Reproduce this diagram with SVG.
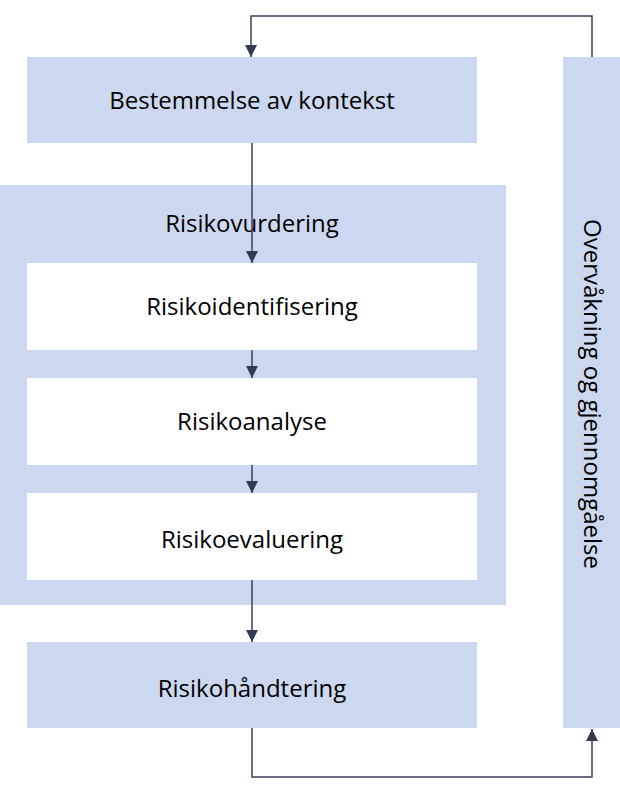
<svg xmlns="http://www.w3.org/2000/svg" width="620" height="793" viewBox="0 0 620 793">
<style>
.b{fill:#ccd8ef}.w{fill:#fff}
.t{font-family:"Open Sans","Liberation Sans",sans-serif;font-size:24px;fill:#000;text-anchor:middle}
.c{fill:none;stroke:#3b4058;stroke-width:1.5}
</style>
<defs>
<marker id="m" viewBox="0 0 12 12" markerWidth="12" markerHeight="12" refX="12" refY="6" orient="auto" markerUnits="userSpaceOnUse"><path d="M0,0L12,6L0,12z" fill="#333a55"/></marker></defs>
<g id="kontekst"><rect class="b" x="27" y="57" width="450" height="86"/><text class="t" x="252" y="109">Bestemmelse av kontekst</text></g>
<g id="vurdering"><rect class="b" x="0" y="185" width="506" height="420"/><text class="t" x="252" y="232">Risikovurdering</text></g>
<g id="identifisering"><rect class="w" x="27" y="263" width="450" height="87"/><text class="t" x="252" y="315">Risikoidentifisering</text></g>
<g id="analyse"><rect class="w" x="27" y="378" width="450" height="87"/><text class="t" x="252" y="430">Risikoanalyse</text></g>
<g id="evaluering"><rect class="w" x="27" y="493" width="450" height="87"/><text class="t" x="252" y="548">Risikoevaluering</text></g>
<g id="handtering"><rect class="b" x="27" y="642" width="450" height="86"/><text class="t" x="252" y="697">Risikohåndtering</text></g>
<g id="overvaking"><rect class="b" x="563" y="57" width="57" height="671"/><text class="t" transform="translate(584,394) rotate(90)">Overvåkning og gjennomgåelse</text></g>
<g id="connectors">
<path class="c" d="M592,57V16H251V57" marker-end="url(#m)"/>
<path class="c" d="M252,143V263" marker-end="url(#m)"/>
<path class="c" d="M252,350V378" marker-end="url(#m)"/>
<path class="c" d="M252,465V493" marker-end="url(#m)"/>
<path class="c" d="M252,580V642" marker-end="url(#m)"/>
<path class="c" d="M252,728V777H592V729" marker-end="url(#m)"/>
</g>
</svg>
